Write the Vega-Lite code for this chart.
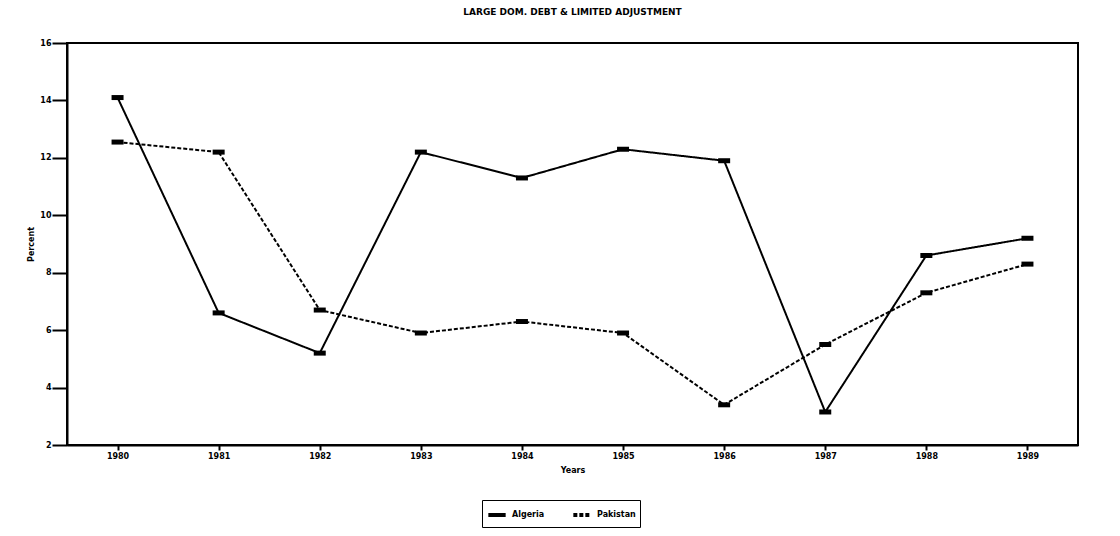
{
  "$schema": "https://vega.github.io/schema/vega-lite/v6.json",
  "width": 1011,
  "height": 402,
  "autosize": {"type": "none"},
  "padding": {"left": 67, "top": 43, "right": 42, "bottom": 91},
  "background": "white",
  "title": {"text": "LARGE DOM. DEBT & LIMITED ADJUSTMENT", "font": "DejaVu Sans", "fontSize": 9, "fontWeight": "bold", "color": "black", "offset": 22, "anchor": "middle"},
  "config": {
    "view": {"stroke": "black", "strokeWidth": 2},
    "range": {"strokeDash": [[1, 0], [2, 3]]},
    "axis": {"labelFont": "DejaVu Sans", "labelFontWeight": "bold", "labelFontSize": 8, "labelColor": "black", "titleFont": "DejaVu Sans", "titleFontWeight": "bold", "titleFontSize": 8, "titleColor": "black", "domainColor": "black", "tickColor": "black", "grid": false, "domainWidth": 2, "tickWidth": 2}
  },
  "data": {"values": [
    {"year": "1980", "country": "Algeria", "value": 14.1},
    {"year": "1981", "country": "Algeria", "value": 6.6},
    {"year": "1982", "country": "Algeria", "value": 5.2},
    {"year": "1983", "country": "Algeria", "value": 12.2},
    {"year": "1984", "country": "Algeria", "value": 11.3},
    {"year": "1985", "country": "Algeria", "value": 12.3},
    {"year": "1986", "country": "Algeria", "value": 11.9},
    {"year": "1987", "country": "Algeria", "value": 3.15},
    {"year": "1988", "country": "Algeria", "value": 8.6},
    {"year": "1989", "country": "Algeria", "value": 9.2},
    {"year": "1980", "country": "Pakistan", "value": 12.55},
    {"year": "1981", "country": "Pakistan", "value": 12.2},
    {"year": "1982", "country": "Pakistan", "value": 6.7},
    {"year": "1983", "country": "Pakistan", "value": 5.9},
    {"year": "1984", "country": "Pakistan", "value": 6.3},
    {"year": "1985", "country": "Pakistan", "value": 5.9},
    {"year": "1986", "country": "Pakistan", "value": 3.4},
    {"year": "1987", "country": "Pakistan", "value": 5.5},
    {"year": "1988", "country": "Pakistan", "value": 7.3},
    {"year": "1989", "country": "Pakistan", "value": 8.3}
  ]},
  "encoding": {
    "x": {"field": "year", "type": "ordinal", "scale": {"type": "point", "padding": 0.5},
          "axis": {"title": "Years", "labelAngle": 0, "tickSize": 5, "labelPadding": 2, "titlePadding": 6}},
    "y": {"field": "value", "type": "quantitative", "scale": {"domain": [2, 16], "nice": false},
          "axis": {"title": "Percent", "values": [2, 4, 6, 8, 10, 12, 14, 16], "tickSize": 15, "labelPadding": 1, "titlePadding": 4}}
  },
  "layer": [
    {
      "mark": {"type": "line", "color": "black", "strokeWidth": 2},
      "encoding": {
        "strokeDash": {"field": "country", "type": "nominal",
          "legend": {"title": null, "orient": "none", "legendX": 415, "legendY": 457, "direction": "horizontal",
            "strokeColor": "black", "padding": 4, "fillColor": "white",
            "labelFont": "DejaVu Sans", "labelFontWeight": "bold", "labelFontSize": 8, "labelColor": "black",
            "symbolType": "stroke", "symbolSize": 300, "symbolStrokeWidth": 4, "symbolStrokeColor": "black", "columnPadding": 20}}
      }
    },
    {
      "mark": {"type": "tick", "orient": "horizontal", "color": "black", "thickness": 5, "size": 12, "opacity": 1},
      "encoding": {"detail": {"field": "country"}}
    }
  ]
}
